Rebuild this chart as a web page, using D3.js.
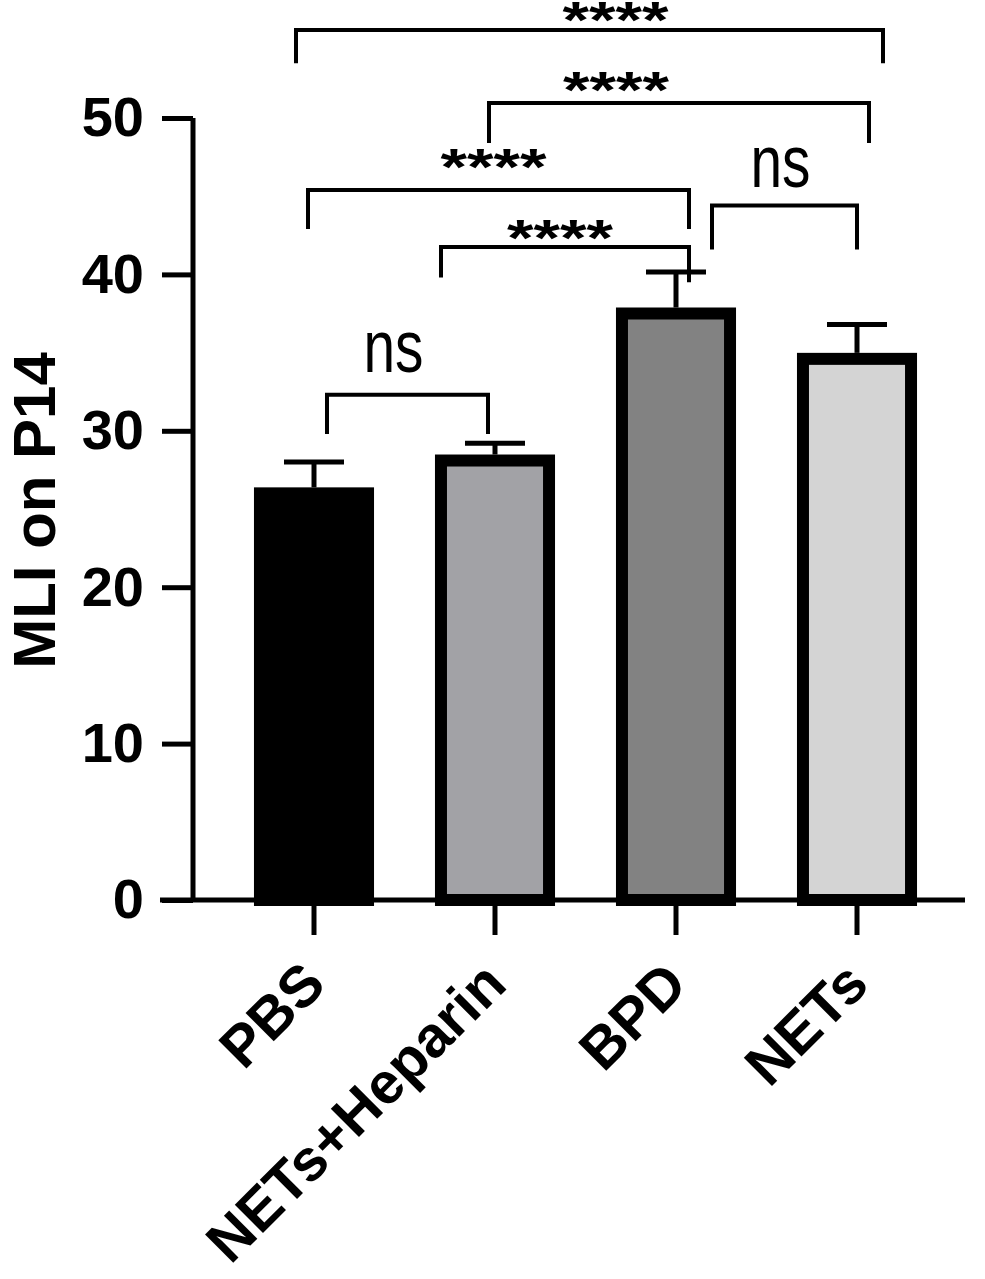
<!DOCTYPE html>
<html>
<head>
  <title>MLI on P14</title>
  <script src="https://d3js.org/d3.v7.min.js"></script>
  <style>
    body { margin: 0; background: #fff; }
    text { font-family: "Liberation Sans", Arial, sans-serif; fill: #000; }
  </style>
</head>
<body>
<div id="chart"></div>
<script>
  // group data
  const groups = ["PBS", "NETs+Heparin", "BPD", "NETs"];
  const means = [26.0, 28.1, 37.5, 34.6];
  const errUpper = [28.0, 29.2, 40.15, 36.8];
  const yTicks = [0, 10, 20, 30, 40, 50];
  const yTitle = "MLI on P14";

  // significance comparisons: [group a, group b, label]
  const comparisons = [
    ["PBS", "NETs+Heparin", "ns"],
    ["NETs+Heparin", "BPD", "****"],
    ["PBS", "BPD", "****"],
    ["BPD", "NETs", "ns"],
    ["NETs+Heparin", "NETs", "****"],
    ["PBS", "NETs", "****"]
  ];
  // bracket placement: top level, leg ends (data units), leg x offsets, label dx / dy (px)
  const bracketTop = [32.3, 41.75, 45.4, 44.4, 50.96, 55.63];
  const bracketLegs = [[29.8, 29.8], [39.8, 39.5], [42.9, 42.9], [41.6, 41.6], [48.4, 48.4], [53.5, 53.5]];
  const bracketOffsets = [[13, -7], [-54, 13], [-6, 13], [36, 0], [-6, 12], [-18, 26]];
  const labelDx = [-14, -5, -5, -4, -63, 26];
  const labelDy = [-23, -16, -30, -19, -20, -17];

  const fills = ["#000000", "#a2a2a6", "#828282", "#d4d4d4"];

  const width = 985, height = 1279;
  const svg = d3.select("#chart").append("svg")
    .attr("width", width).attr("height", height);

  const y = d3.scaleLinear().domain([0, 50]).range([900, 118]);
  const x = d3.scaleBand().domain(groups).range([193, 978])
    .paddingInner(0.403).paddingOuter(0.37);
  const cx = g => x(g) + x.bandwidth() / 2;

  // bars
  svg.selectAll(".bar").data(groups).enter().append("rect")
    .attr("class", "bar")
    .attr("x", d => x(d))
    .attr("width", x.bandwidth())
    .attr("y", (d, i) => y(means[i]))
    .attr("height", (d, i) => y(0) - y(means[i]))
    .attr("fill", (d, i) => fills[i])
    .attr("stroke", "#000")
    .attr("stroke-width", 12);

  // error bars
  const eb = svg.selectAll(".err").data(groups).enter().append("g").attr("class", "err");
  eb.append("line")
    .attr("x1", d => cx(d)).attr("x2", d => cx(d))
    .attr("y1", (d, i) => y(means[i]) - 6).attr("y2", (d, i) => y(errUpper[i]))
    .attr("stroke", "#000").attr("stroke-width", 5);
  eb.append("line")
    .attr("x1", d => cx(d) - 30).attr("x2", d => cx(d) + 30)
    .attr("y1", (d, i) => y(errUpper[i])).attr("y2", (d, i) => y(errUpper[i]))
    .attr("stroke", "#000").attr("stroke-width", 5);

  // y axis
  const yAxis = svg.append("g")
    .attr("transform", "translate(193,0)")
    .call(d3.axisLeft(y).tickValues(yTicks).tickSize(31).tickSizeOuter(0).tickPadding(18));
  yAxis.select(".domain").attr("stroke-width", 5).attr("d", `M0,${y(50)}V${y(0)}`);
  yAxis.selectAll(".tick line").attr("stroke-width", 5);
  yAxis.selectAll(".tick text")
    .style("font-size", "56px").style("font-weight", "bold")
    .style("font-family", "'Liberation Sans', Arial, sans-serif");

  // x axis
  const xAxis = svg.append("g")
    .attr("transform", `translate(0,${y(0)})`)
    .call(d3.axisBottom(x).tickSize(35).tickSizeOuter(0).tickFormat(""));
  xAxis.select(".domain").attr("stroke-width", 5).attr("d", "M160,0H965");
  xAxis.selectAll(".tick line").attr("stroke-width", 5);

  svg.selectAll(".xlab").data(groups).enter().append("text")
    .attr("class", "xlab")
    .attr("transform", d => `translate(${cx(d) + 14},${y(0) + 87}) rotate(-45)`)
    .attr("text-anchor", "end")
    .style("font-size", "58px").style("font-weight", "bold")
    .text(d => d);

  // y title
  svg.append("text")
    .attr("transform", `translate(55,${(348 + 673) / 2}) rotate(-90)`)
    .attr("text-anchor", "middle")
    .style("font-size", "60px").style("font-weight", "bold")
    .text(yTitle);

  // significance brackets
  comparisons.forEach((c, i) => {
    const xa = cx(c[0]) + bracketOffsets[i][0];
    const xb = cx(c[1]) + bracketOffsets[i][1];
    const yt = y(bracketTop[i]);
    svg.append("path")
      .attr("d", `M${xa},${y(bracketLegs[i][0])}V${yt}H${xb}V${y(bracketLegs[i][1])}`)
      .attr("fill", "none").attr("stroke", "#000").attr("stroke-width", 4);
    const lx = (xa + xb) / 2 + labelDx[i];
    const t = svg.append("text")
      .attr("x", lx)
      .attr("text-anchor", "middle")
      .text(c[2]);
    if (c[2] === "ns") {
      t.attr("y", yt + labelDy[i])
        .style("font-size", "74px")
        .attr("textLength", 60).attr("lengthAdjust", "spacingAndGlyphs");
    } else {
      t.attr("y", yt + labelDy[i] + 25)
        .style("font-size", "52px").style("font-weight", "bold")
        .attr("textLength", 106).attr("lengthAdjust", "spacingAndGlyphs");
    }
  });
</script>
</body>
</html>
